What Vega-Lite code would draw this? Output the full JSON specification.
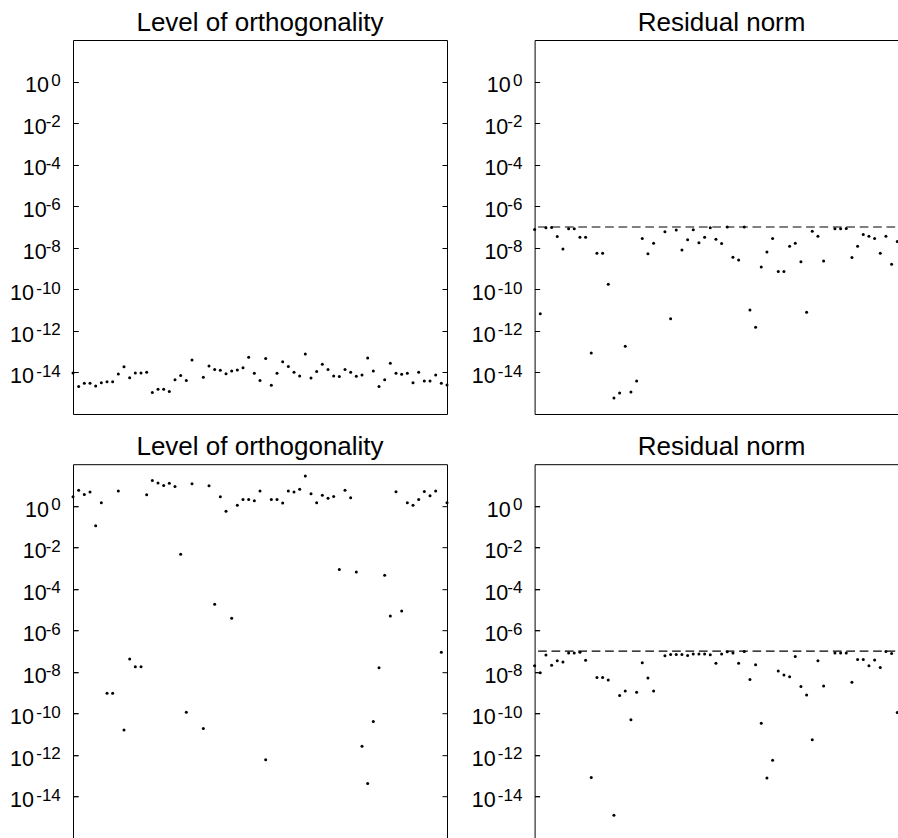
{
  "$schema": "https://vega.github.io/schema/vega-lite/v6.json",
  "padding": {"left": 9, "top": 9, "right": 0, "bottom": 0},
  "background": "white",
  "datasets": {
    "orthTop": [
      {"k": 0, "v": 9.5e-15}, {"k": 1, "v": 2.1e-15}, {"k": 2, "v": 3.0e-15}, {"k": 3, "v": 3.0e-15}, {"k": 4, "v": 2.2e-15},
      {"k": 5, "v": 3.2e-15}, {"k": 6, "v": 3.6e-15}, {"k": 7, "v": 3.6e-15}, {"k": 8, "v": 8.5e-15}, {"k": 9, "v": 1.86e-14},
      {"k": 10, "v": 5.6e-15}, {"k": 11, "v": 9.5e-15}, {"k": 12, "v": 9.5e-15}, {"k": 13, "v": 1.02e-14}, {"k": 14, "v": 1.07e-15},
      {"k": 15, "v": 1.55e-15}, {"k": 16, "v": 1.55e-15}, {"k": 17, "v": 1.2e-15}, {"k": 18, "v": 4.4e-15}, {"k": 19, "v": 7.2e-15},
      {"k": 20, "v": 4.1e-15}, {"k": 21, "v": 3.98e-14}, {"k": 23, "v": 5.9e-15}, {"k": 24, "v": 2.04e-14},
      {"k": 25, "v": 1.38e-14}, {"k": 26, "v": 1.26e-14}, {"k": 27, "v": 8.7e-15}, {"k": 28, "v": 1.17e-14}, {"k": 29, "v": 1.32e-14},
      {"k": 30, "v": 1.7e-14}, {"k": 31, "v": 5.37e-14}, {"k": 32, "v": 9.1e-15}, {"k": 33, "v": 4.1e-15}, {"k": 34, "v": 4.68e-14},
      {"k": 35, "v": 2.4e-15}, {"k": 36, "v": 9.1e-15}, {"k": 37, "v": 3.31e-14}, {"k": 38, "v": 1.91e-14}, {"k": 39, "v": 1.02e-14},
      {"k": 40, "v": 6.8e-15}, {"k": 41, "v": 7.76e-14}, {"k": 42, "v": 5.4e-15}, {"k": 43, "v": 1.1e-14}, {"k": 44, "v": 2.45e-14},
      {"k": 45, "v": 1.38e-14}, {"k": 46, "v": 6.8e-15}, {"k": 47, "v": 6.3e-15}, {"k": 48, "v": 1.38e-14}, {"k": 49, "v": 1.02e-14},
      {"k": 50, "v": 6.6e-15}, {"k": 51, "v": 7.6e-15}, {"k": 52, "v": 5.0e-14}, {"k": 53, "v": 1.17e-14}, {"k": 54, "v": 2.1e-15},
      {"k": 55, "v": 4.5e-15}, {"k": 56, "v": 2.75e-14}, {"k": 57, "v": 9.1e-15}, {"k": 58, "v": 8.1e-15}, {"k": 59, "v": 9.1e-15},
      {"k": 60, "v": 3.2e-15}, {"k": 61, "v": 1.02e-14}, {"k": 62, "v": 3.9e-15}, {"k": 63, "v": 3.9e-15}, {"k": 64, "v": 7.6e-15},
      {"k": 65, "v": 3.0e-15}, {"k": 66, "v": 2.5e-15}
    ],
    "resTop": [
      {"k": 0, "v": 7.6e-8}, {"k": 1, "v": 6.6e-12}, {"k": 2, "v": 9.1e-8}, {"k": 3, "v": 9.5e-8}, {"k": 4, "v": 3.5e-8},
      {"k": 5, "v": 8.7e-9}, {"k": 6, "v": 8.3e-8}, {"k": 7, "v": 8.3e-8}, {"k": 8, "v": 3.2e-8}, {"k": 9, "v": 3.2e-8},
      {"k": 10, "v": 8.7e-14}, {"k": 11, "v": 5.5e-9}, {"k": 12, "v": 5.5e-9}, {"k": 13, "v": 1.78e-10}, {"k": 14, "v": 5.9e-16},
      {"k": 15, "v": 1.02e-15}, {"k": 16, "v": 1.82e-13}, {"k": 17, "v": 1.15e-15}, {"k": 18, "v": 3.9e-15}, {"k": 19, "v": 2.8e-8},
      {"k": 20, "v": 5.1e-9}, {"k": 21, "v": 1.66e-8}, {"k": 23, "v": 5.9e-8}, {"k": 24, "v": 3.8e-12},
      {"k": 25, "v": 7.1e-8}, {"k": 26, "v": 7.8e-9}, {"k": 27, "v": 2.45e-8}, {"k": 28, "v": 7.4e-8}, {"k": 29, "v": 1.74e-8},
      {"k": 30, "v": 3.2e-8}, {"k": 31, "v": 9.1e-8}, {"k": 32, "v": 2.6e-8}, {"k": 33, "v": 1.62e-8}, {"k": 34, "v": 9.9e-8},
      {"k": 35, "v": 3.5e-9}, {"k": 36, "v": 2.6e-9}, {"k": 37, "v": 9.9e-8}, {"k": 38, "v": 1.0e-11}, {"k": 39, "v": 1.5e-12},
      {"k": 40, "v": 1.2e-9}, {"k": 41, "v": 6.2e-9}, {"k": 42, "v": 2.8e-8}, {"k": 43, "v": 7.2e-10}, {"k": 44, "v": 7.2e-10},
      {"k": 45, "v": 1.2e-8}, {"k": 46, "v": 1.66e-8}, {"k": 47, "v": 2.1e-9}, {"k": 48, "v": 7.9e-12}, {"k": 49, "v": 6.2e-8},
      {"k": 50, "v": 3.6e-8}, {"k": 51, "v": 2.3e-9}, {"k": 53, "v": 8.3e-8}, {"k": 54, "v": 8.3e-8},
      {"k": 55, "v": 8.5e-8}, {"k": 56, "v": 3.4e-9}, {"k": 57, "v": 1.2e-8}, {"k": 58, "v": 4.4e-8}, {"k": 59, "v": 3.6e-8},
      {"k": 60, "v": 2.8e-8}, {"k": 61, "v": 5.4e-9}, {"k": 62, "v": 3.6e-8}, {"k": 63, "v": 1.6e-9}, {"k": 64, "v": 2.0e-8}
    ],
    "orthBottom": [
      {"k": 0, "v": 2.7}, {"k": 1, "v": 5.6}, {"k": 2, "v": 3.5}, {"k": 3, "v": 4.6}, {"k": 4, "v": 0.11},
      {"k": 5, "v": 1.4}, {"k": 6, "v": 9.5e-10}, {"k": 7, "v": 9.5e-10}, {"k": 8, "v": 5.2}, {"k": 9, "v": 1.6e-11},
      {"k": 10, "v": 4.2e-8}, {"k": 11, "v": 1.8e-8}, {"k": 12, "v": 1.8e-8}, {"k": 13, "v": 3.4}, {"k": 14, "v": 16.6},
      {"k": 15, "v": 12.3}, {"k": 16, "v": 9.5}, {"k": 17, "v": 12.0}, {"k": 18, "v": 8.5}, {"k": 19, "v": 4.6e-3},
      {"k": 20, "v": 1.15e-10}, {"k": 21, "v": 11.5}, {"k": 23, "v": 1.9e-11}, {"k": 24, "v": 9.1},
      {"k": 25, "v": 1.8e-5}, {"k": 26, "v": 2.7}, {"k": 27, "v": 0.55}, {"k": 28, "v": 3.9e-6}, {"k": 29, "v": 1.07},
      {"k": 30, "v": 2.0}, {"k": 31, "v": 2.0}, {"k": 32, "v": 1.74}, {"k": 33, "v": 5.1}, {"k": 34, "v": 5.9e-13},
      {"k": 35, "v": 2.0}, {"k": 36, "v": 2.0}, {"k": 37, "v": 1.35}, {"k": 38, "v": 5.1}, {"k": 39, "v": 4.6},
      {"k": 40, "v": 6.3}, {"k": 41, "v": 26.9}, {"k": 42, "v": 3.8}, {"k": 43, "v": 1.4}, {"k": 44, "v": 3.2},
      {"k": 45, "v": 2.3}, {"k": 46, "v": 2.8}, {"k": 47, "v": 8.5e-4}, {"k": 48, "v": 5.6}, {"k": 49, "v": 2.45},
      {"k": 50, "v": 6.5e-4}, {"k": 51, "v": 2.7e-12}, {"k": 52, "v": 4.3e-14}, {"k": 53, "v": 4.1e-11}, {"k": 54, "v": 1.6e-8},
      {"k": 55, "v": 4.5e-4}, {"k": 56, "v": 5.0e-6}, {"k": 57, "v": 4.7}, {"k": 58, "v": 8.7e-6}, {"k": 59, "v": 1.4},
      {"k": 60, "v": 1.07}, {"k": 61, "v": 2.0}, {"k": 62, "v": 4.9}, {"k": 63, "v": 3.0}, {"k": 64, "v": 5.1},
      {"k": 65, "v": 8.9e-8}, {"k": 66, "v": 1.4}
    ],
    "resBottom": [
      {"k": 0, "v": 2.0e-8}, {"k": 1, "v": 9.3e-9}, {"k": 2, "v": 6.5e-8}, {"k": 3, "v": 2.1e-8}, {"k": 4, "v": 3.5e-8},
      {"k": 5, "v": 3.0e-8}, {"k": 6, "v": 8.1e-8}, {"k": 7, "v": 8.1e-8}, {"k": 8, "v": 8.9e-8}, {"k": 9, "v": 3.7e-8},
      {"k": 10, "v": 8.3e-14}, {"k": 11, "v": 5.4e-9}, {"k": 12, "v": 5.4e-9}, {"k": 13, "v": 4.1e-9}, {"k": 14, "v": 1.26e-15},
      {"k": 15, "v": 7.4e-10}, {"k": 16, "v": 1.23e-9}, {"k": 17, "v": 5.0e-11}, {"k": 18, "v": 1.07e-9}, {"k": 19, "v": 2.75e-8},
      {"k": 20, "v": 5.2e-9}, {"k": 21, "v": 1.2e-9}, {"k": 23, "v": 6.0e-8}, {"k": 24, "v": 6.9e-8},
      {"k": 25, "v": 6.9e-8}, {"k": 26, "v": 6.9e-8}, {"k": 27, "v": 6.2e-8}, {"k": 28, "v": 7.4e-8}, {"k": 29, "v": 7.4e-8},
      {"k": 30, "v": 7.4e-8}, {"k": 31, "v": 6.8e-8}, {"k": 32, "v": 2.6e-8}, {"k": 33, "v": 7.4e-8}, {"k": 34, "v": 9.3e-8},
      {"k": 35, "v": 8.1e-8}, {"k": 36, "v": 2.6e-8}, {"k": 37, "v": 9.8e-8}, {"k": 38, "v": 4.4e-9}, {"k": 39, "v": 2.2e-8},
      {"k": 40, "v": 3.4e-11}, {"k": 41, "v": 7.9e-14}, {"k": 42, "v": 5.6e-13}, {"k": 43, "v": 1.12e-8}, {"k": 44, "v": 7.2e-9},
      {"k": 45, "v": 5.9e-9}, {"k": 46, "v": 5.5e-8}, {"k": 47, "v": 2.0e-9}, {"k": 48, "v": 7.9e-10}, {"k": 49, "v": 5.4e-12},
      {"k": 50, "v": 3.5e-8}, {"k": 51, "v": 2.1e-9}, {"k": 53, "v": 8.1e-8}, {"k": 54, "v": 8.1e-8},
      {"k": 55, "v": 8.1e-8}, {"k": 56, "v": 3.2e-9}, {"k": 57, "v": 4.0e-8}, {"k": 58, "v": 4.0e-8}, {"k": 59, "v": 2.0e-8},
      {"k": 60, "v": 3.8e-8}, {"k": 61, "v": 1.66e-8}, {"k": 62, "v": 9.8e-8}, {"k": 63, "v": 7.8e-8}, {"k": 64, "v": 1.12e-10}
    ],
    "tol": [{"tol": 1e-7}]
  },
  "bounds": "flush",
  "columns": 2,
  "spacing": {"row": 50.2, "column": 87.6},
  "concat": [
    {
      "title": "Level of orthogonality",
      "width": 374, "height": 374,
      "layer": [
        {"data": {"name": "orthTop"}, "mark": {"type": "point", "filled": true, "size": 9, "color": "black", "opacity": 1},
         "encoding": {"x": {"field": "k", "type": "quantitative", "scale": {"domain": [0, 66], "nice": false, "zero": false}, "axis": null},
                      "y": {"field": "v", "type": "quantitative", "scale": {"type": "log", "domain": [1e-16, 100], "nice": false},
                            "axis": {"orient": "left", "values": [1, 1e-2, 1e-4, 1e-6, 1e-8, 1e-10, 1e-12, 1e-14], "labelExpr": "'10'", "labelFontSize": 21.5, "labelBaseline": "alphabetic", "labelOffset": 10.3,
                                     "labelPadding": {"condition": [{"test": "datum.value > 0.5", "value": 24.5}, {"test": "datum.value > 5e-9", "value": 26.8}], "value": 39.5}}}}},
        {"data": {"name": "orthTop"}, "mark": {"type": "point", "opacity": 0},
         "encoding": {"x": {"field": "k", "type": "quantitative", "axis": null},
                      "y": {"field": "v", "type": "quantitative",
                            "axis": {"orient": "left", "values": [1, 1e-2, 1e-4, 1e-6, 1e-8, 1e-10, 1e-12, 1e-14], "labelFontSize": 17, "labelBaseline": "alphabetic", "labelOffset": 3.7, "labelPadding": 12.7,
                                     "labelExpr": "datum.value > 0.5 ? '0' : '-' + round(-log(datum.value) / LN10)"}}}},
        {"data": {"name": "orthTop"}, "mark": {"type": "point", "opacity": 0},
         "encoding": {"x": {"field": "k", "type": "quantitative", "axis": null},
                      "y": {"field": "v", "type": "quantitative", "axis": {"orient": "right", "labels": false, "values": [1, 1e-2, 1e-4, 1e-6, 1e-8, 1e-10, 1e-12, 1e-14]}}}}
      ],
      "resolve": {"axis": {"y": "independent"}}
    },
    {
      "title": "Residual norm",
      "width": 374, "height": 374,
      "layer": [
        {"data": {"name": "tol"}, "mark": {"type": "rule", "color": "black", "strokeWidth": 1.2, "strokeDash": [8.7, 4.7]},
         "encoding": {"y": {"field": "tol", "type": "quantitative", "scale": {"type": "log", "domain": [1e-16, 100], "nice": false}, "axis": {"orient": "right", "labels": false, "values": [1, 1e-2, 1e-4, 1e-6, 1e-8, 1e-10, 1e-12, 1e-14]}}}},
        {"data": {"name": "resTop"}, "mark": {"type": "point", "filled": true, "size": 9, "color": "black", "opacity": 1},
         "encoding": {"x": {"field": "k", "type": "quantitative", "scale": {"domain": [0, 66], "nice": false, "zero": false}, "axis": null},
                      "y": {"field": "v", "type": "quantitative",
                            "axis": {"orient": "left", "values": [1, 1e-2, 1e-4, 1e-6, 1e-8, 1e-10, 1e-12, 1e-14], "labelExpr": "'10'", "labelFontSize": 21.5, "labelBaseline": "alphabetic", "labelOffset": 10.3,
                                     "labelPadding": {"condition": [{"test": "datum.value > 0.5", "value": 24.5}, {"test": "datum.value > 5e-9", "value": 26.8}], "value": 39.5}}}}},
        {"data": {"name": "resTop"}, "mark": {"type": "point", "opacity": 0},
         "encoding": {"x": {"field": "k", "type": "quantitative", "axis": null},
                      "y": {"field": "v", "type": "quantitative",
                            "axis": {"orient": "left", "values": [1, 1e-2, 1e-4, 1e-6, 1e-8, 1e-10, 1e-12, 1e-14], "labelFontSize": 17, "labelBaseline": "alphabetic", "labelOffset": 3.7, "labelPadding": 12.7,
                                     "labelExpr": "datum.value > 0.5 ? '0' : '-' + round(-log(datum.value) / LN10)"}}}}
      ],
      "resolve": {"axis": {"y": "independent"}}
    },
    {
      "title": "Level of orthogonality",
      "width": 374, "height": 374,
      "layer": [
        {"data": {"name": "orthBottom"}, "mark": {"type": "point", "filled": true, "size": 9, "color": "black", "opacity": 1},
         "encoding": {"x": {"field": "k", "type": "quantitative", "scale": {"domain": [0, 66], "nice": false, "zero": false}, "axis": null},
                      "y": {"field": "v", "type": "quantitative", "scale": {"type": "log", "domain": [1e-16, 100], "nice": false},
                            "axis": {"orient": "left", "values": [1, 1e-2, 1e-4, 1e-6, 1e-8, 1e-10, 1e-12, 1e-14], "labelExpr": "'10'", "labelFontSize": 21.5, "labelBaseline": "alphabetic", "labelOffset": 10.3,
                                     "labelPadding": {"condition": [{"test": "datum.value > 0.5", "value": 24.5}, {"test": "datum.value > 5e-9", "value": 26.8}], "value": 39.5}}}}},
        {"data": {"name": "orthBottom"}, "mark": {"type": "point", "opacity": 0},
         "encoding": {"x": {"field": "k", "type": "quantitative", "axis": null},
                      "y": {"field": "v", "type": "quantitative",
                            "axis": {"orient": "left", "values": [1, 1e-2, 1e-4, 1e-6, 1e-8, 1e-10, 1e-12, 1e-14], "labelFontSize": 17, "labelBaseline": "alphabetic", "labelOffset": 3.7, "labelPadding": 12.7,
                                     "labelExpr": "datum.value > 0.5 ? '0' : '-' + round(-log(datum.value) / LN10)"}}}},
        {"data": {"name": "orthBottom"}, "mark": {"type": "point", "opacity": 0},
         "encoding": {"x": {"field": "k", "type": "quantitative", "axis": null},
                      "y": {"field": "v", "type": "quantitative", "axis": {"orient": "right", "labels": false, "values": [1, 1e-2, 1e-4, 1e-6, 1e-8, 1e-10, 1e-12, 1e-14]}}}}
      ],
      "resolve": {"axis": {"y": "independent"}}
    },
    {
      "title": "Residual norm",
      "width": 374, "height": 374,
      "layer": [
        {"data": {"name": "tol"}, "mark": {"type": "rule", "color": "black", "strokeWidth": 1.2, "strokeDash": [8.7, 4.7]},
         "encoding": {"y": {"field": "tol", "type": "quantitative", "scale": {"type": "log", "domain": [1e-16, 100], "nice": false}, "axis": {"orient": "right", "labels": false, "values": [1, 1e-2, 1e-4, 1e-6, 1e-8, 1e-10, 1e-12, 1e-14]}}}},
        {"data": {"name": "resBottom"}, "mark": {"type": "point", "filled": true, "size": 9, "color": "black", "opacity": 1},
         "encoding": {"x": {"field": "k", "type": "quantitative", "scale": {"domain": [0, 66], "nice": false, "zero": false}, "axis": null},
                      "y": {"field": "v", "type": "quantitative",
                            "axis": {"orient": "left", "values": [1, 1e-2, 1e-4, 1e-6, 1e-8, 1e-10, 1e-12, 1e-14], "labelExpr": "'10'", "labelFontSize": 21.5, "labelBaseline": "alphabetic", "labelOffset": 10.3,
                                     "labelPadding": {"condition": [{"test": "datum.value > 0.5", "value": 24.5}, {"test": "datum.value > 5e-9", "value": 26.8}], "value": 39.5}}}}},
        {"data": {"name": "resBottom"}, "mark": {"type": "point", "opacity": 0},
         "encoding": {"x": {"field": "k", "type": "quantitative", "axis": null},
                      "y": {"field": "v", "type": "quantitative",
                            "axis": {"orient": "left", "values": [1, 1e-2, 1e-4, 1e-6, 1e-8, 1e-10, 1e-12, 1e-14], "labelFontSize": 17, "labelBaseline": "alphabetic", "labelOffset": 3.7, "labelPadding": 12.7,
                                     "labelExpr": "datum.value > 0.5 ? '0' : '-' + round(-log(datum.value) / LN10)"}}}}
      ],
      "resolve": {"axis": {"y": "independent"}}
    }
  ],
  "config": {
    "font": "Liberation Sans",
    "view": {"stroke": "black", "strokeWidth": 1},
    "title": {"fontSize": 26, "fontWeight": "normal", "font": "Liberation Sans", "color": "black", "offset": 4, "anchor": "middle"},
    "axis": {
      "domain": false, "grid": false, "title": null,
      "ticks": true, "tickSize": 5, "offset": -5, "tickColor": "black", "tickWidth": 1,
      "labelFont": "Liberation Sans", "labelColor": "black", "labelOverlap": false, "labelFlush": false, "labelBound": false
    }
  }
}
